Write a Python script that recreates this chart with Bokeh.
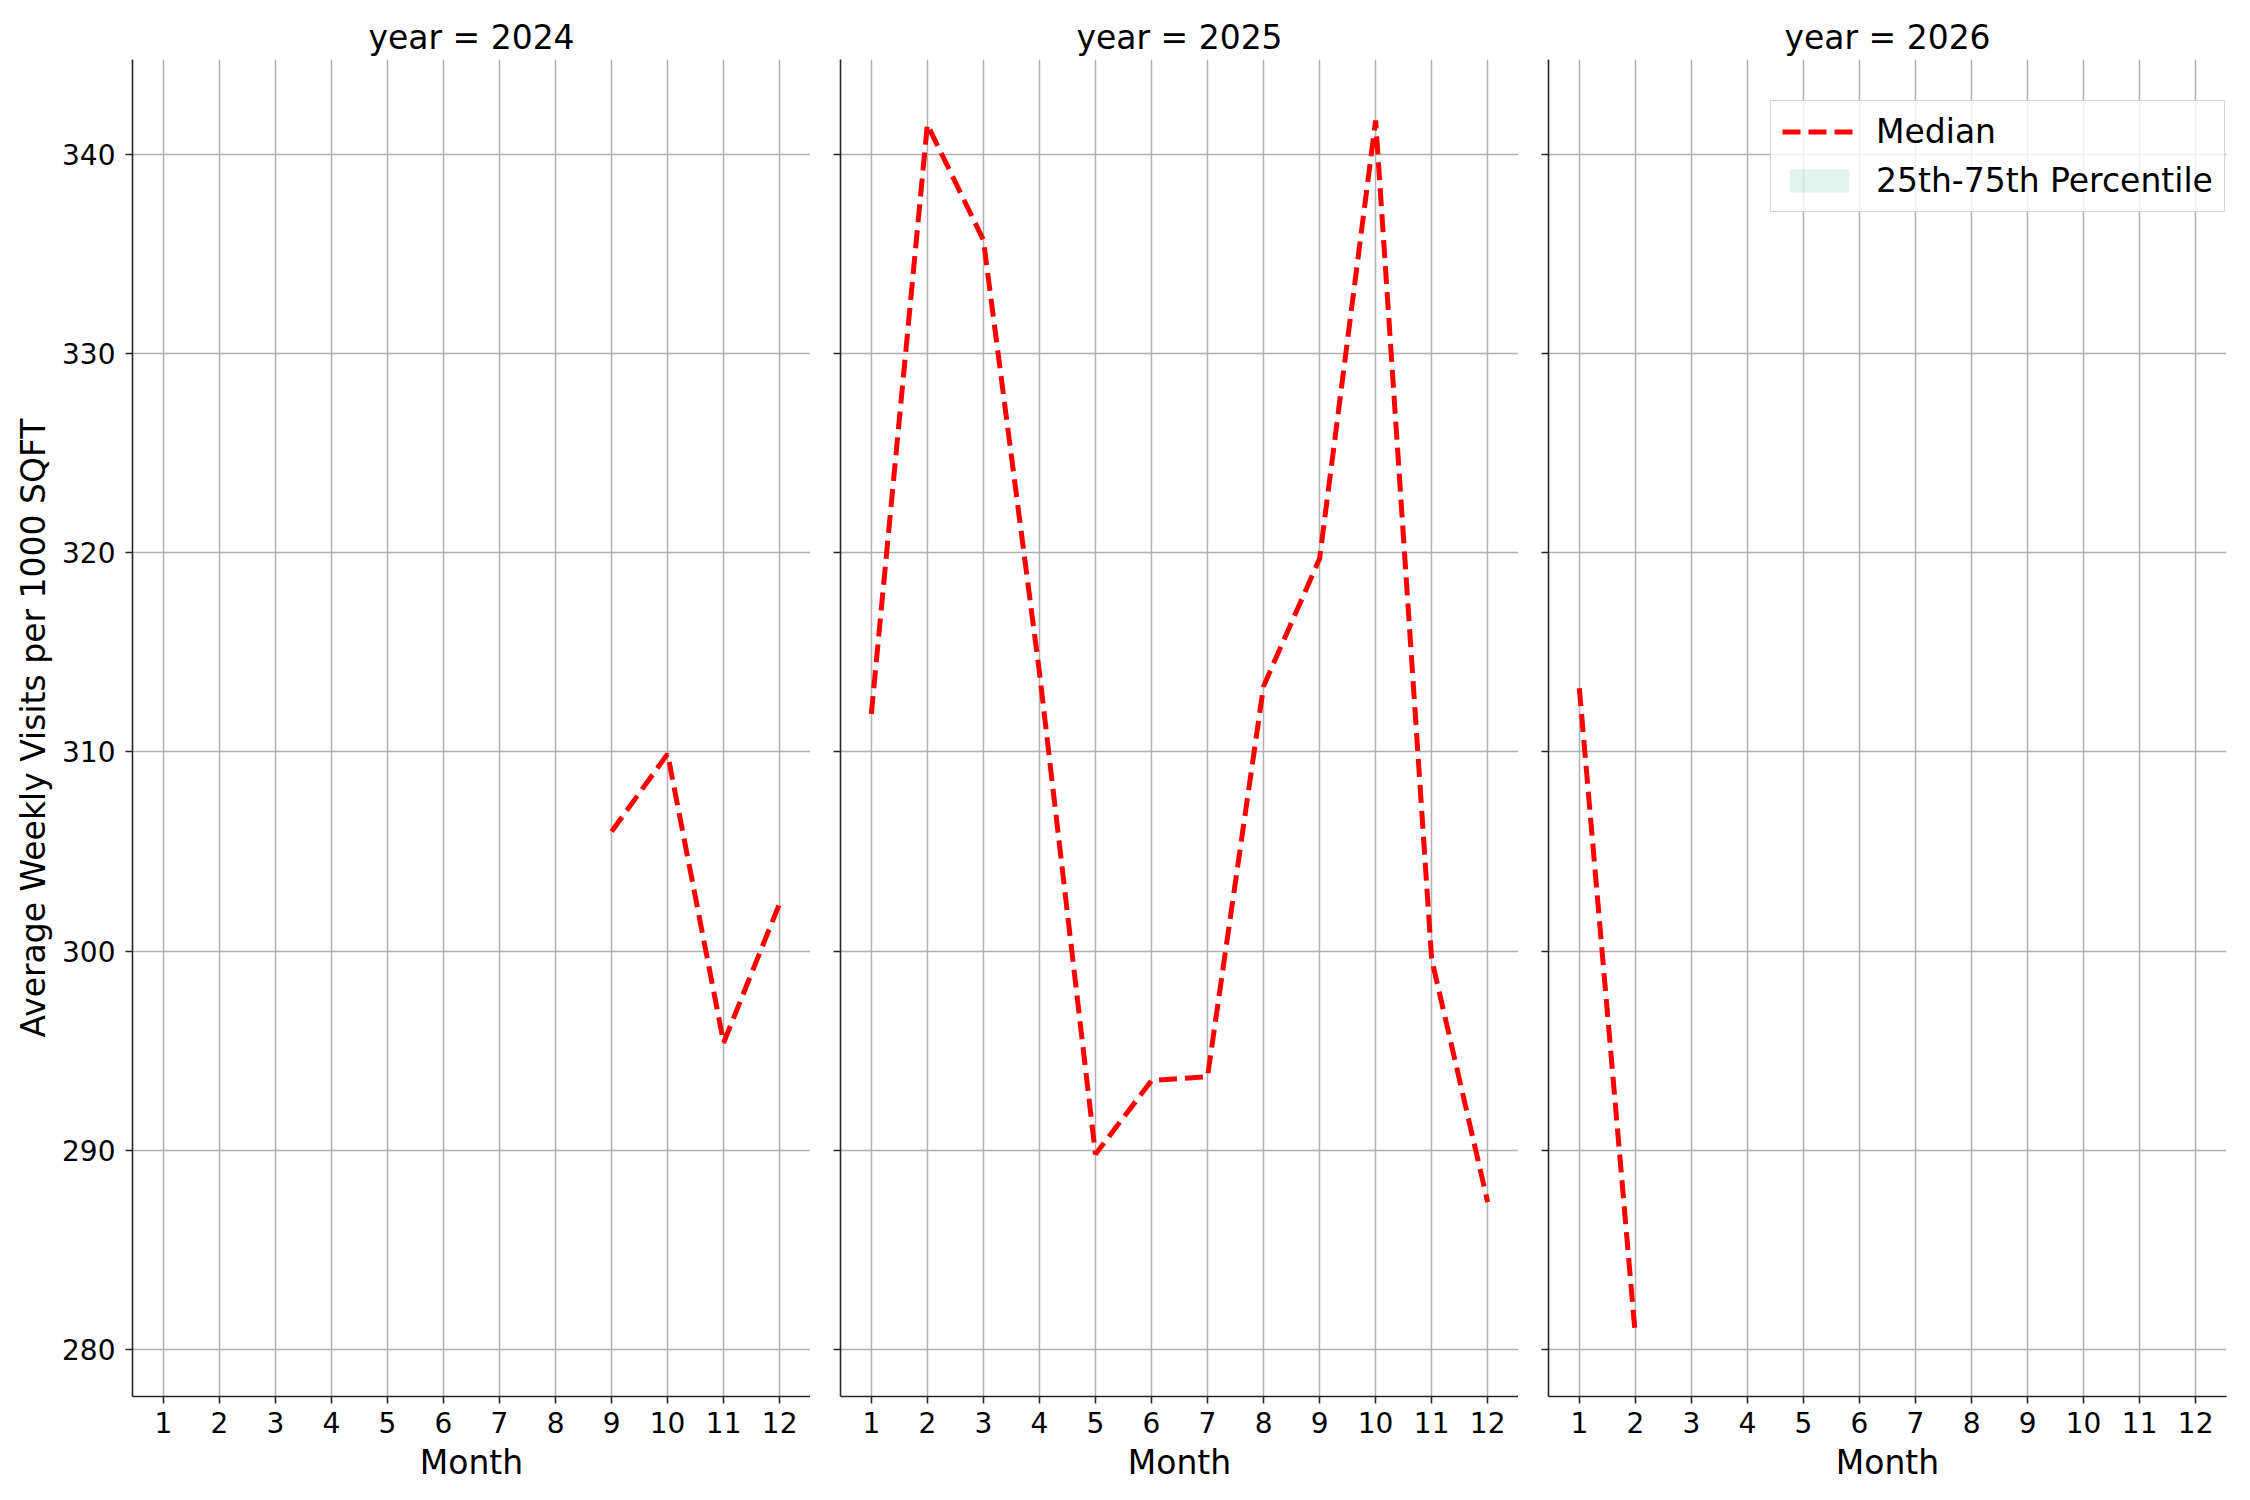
from bokeh.plotting import figure
from bokeh.layouts import row
from bokeh.models import Range1d, FixedTicker
from bokeh.embed import file_html
from bokeh.resources import INLINE

# data
years = [2024, 2025, 2026]
month_ticks = [1, 2, 3, 4, 5, 6, 7, 8, 9, 10, 11, 12]
visit_ticks = [280, 290, 300, 310, 320, 330, 340]

months_2024 = [9, 10, 11, 12]
median_2024 = [306.0, 309.9, 295.4, 302.4]

months_2025 = [1, 2, 3, 4, 5, 6, 7, 8, 9, 10, 11, 12]
median_2025 = [311.9, 341.5, 335.7, 314.0, 289.8, 293.5, 293.7, 313.3, 319.7, 341.7, 299.6, 287.4]

months_2026 = [1, 2]
median_2026 = [313.2, 280.7]

# the 25th-75th percentile band shows no values in any panel (all missing)
band_months = [1, 2]
band_p25 = [float("nan"), float("nan")]
band_p75 = [float("nan"), float("nan")]

FONT = "DejaVu Sans"
AXIS_COLOR = "#262626"
GRID_COLOR = "#b0b0b0"


def make_panel(year, months, median, first):
    p = figure(frame_width=678, frame_height=1337,
               x_range=Range1d(0.45, 12.55), y_range=Range1d(277.64, 344.76),
               toolbar_location=None, tools="", output_backend="svg")
    p.min_border_left = 132 if first else 30
    p.min_border_right = 0
    p.min_border_top = 59
    p.min_border_bottom = 96
    p.outline_line_color = None
    p.background_fill_color = "white"
    p.border_fill_color = "white"

    p.title.text = "year = %d" % year
    p.title.text_font = FONT
    p.title.text_font_size = "33px"
    p.title.text_font_style = "normal"
    p.title.text_color = "black"
    p.title.align = "center"
    p.title.standoff = 5

    p.xaxis.ticker = FixedTicker(ticks=month_ticks)
    p.yaxis.ticker = FixedTicker(ticks=visit_ticks)
    p.xaxis.axis_label = "Month"

    for ax in (p.xaxis, p.yaxis):
        ax.axis_line_color = AXIS_COLOR
        ax.axis_line_width = 1.6
        ax.major_tick_line_color = AXIS_COLOR
        ax.major_tick_line_width = 1.6
        ax.major_tick_out = 7
        ax.major_tick_in = 0
        ax.minor_tick_line_color = None
        ax.axis_label_text_font = FONT
        ax.axis_label_text_font_size = "33px"
        ax.axis_label_text_font_style = "normal"
        ax.axis_label_text_color = "black"
        ax.major_label_text_font = FONT
        ax.major_label_text_color = "black"
        ax.major_label_text_font_size = "28px"
    p.xaxis.major_label_standoff = 8
    p.xaxis.axis_label_standoff = 7

    if first:
        p.yaxis.axis_label = "Average Weekly Visits per 1000 SQFT"
        p.yaxis.major_label_standoff = 10
        p.yaxis.axis_label_standoff = 6
    else:
        # shared y axis: ticks only, no labels
        p.yaxis.major_label_text_color = None
        p.yaxis.major_label_text_font_size = "1px"
        p.yaxis.major_label_standoff = 0

    p.xgrid.grid_line_color = GRID_COLOR
    p.ygrid.grid_line_color = GRID_COLOR
    p.xgrid.grid_line_width = 1.5
    p.ygrid.grid_line_width = 1.5

    p.varea(x=band_months, y1=band_p25, y2=band_p75,
            fill_color="#66c2a5", fill_alpha=0.2,
            legend_label="25th-75th Percentile")
    p.line(months, median, line_color="red", line_width=5, line_dash="18 8",
           legend_label="Median")
    return p


p1 = make_panel(years[0], months_2024, median_2024, True)
p2 = make_panel(years[1], months_2025, median_2025, False)
p3 = make_panel(years[2], months_2026, median_2026, False)
p3.min_border_right = 12

p1.legend.visible = False
p2.legend.visible = False

leg = p3.legend[0]
leg.items = [leg.items[1], leg.items[0]]
leg.location = (222, 1184)
leg.margin = 0
leg.padding = 11
leg.spacing = 10
leg.glyph_width = 74
leg.glyph_height = 29
leg.label_height = 38
leg.label_standoff = 20
leg.label_text_font = FONT
leg.label_text_font_size = "33px"
leg.label_text_color = "black"
leg.border_line_color = "#cccccc"
leg.border_line_alpha = 0.8
leg.border_line_width = 1.6
leg.background_fill_color = "white"
leg.background_fill_alpha = 0.8

layout = row(p1, p2, p3)

open("out.html", "w").write(file_html(layout, INLINE))
